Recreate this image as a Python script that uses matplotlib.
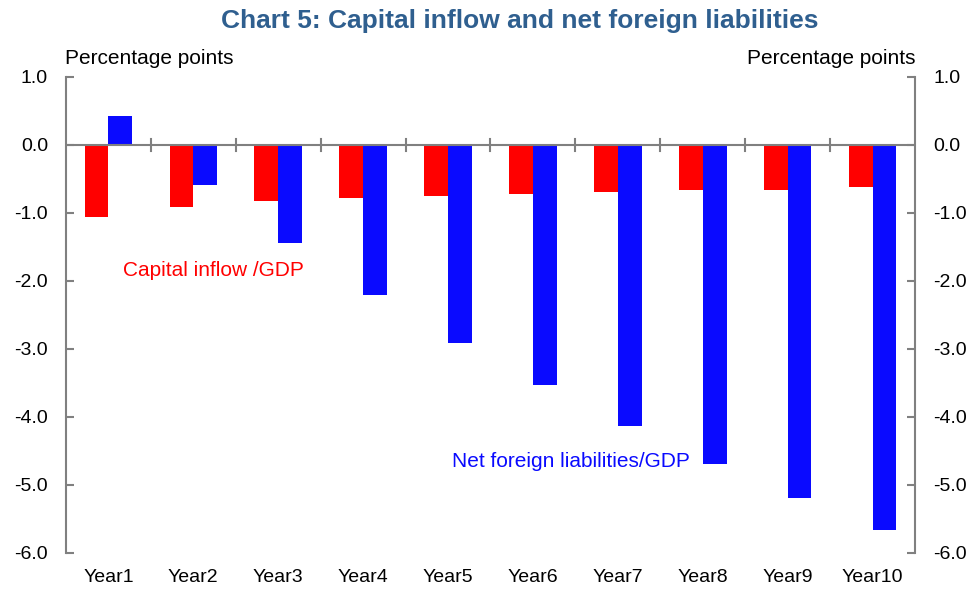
import numpy as np
import matplotlib
matplotlib.use("Agg")
import matplotlib.pyplot as plt

plt.rcParams['font.family'] = ['Liberation Sans', 'DejaVu Sans']

years = ['Year1', 'Year2', 'Year3', 'Year4', 'Year5',
         'Year6', 'Year7', 'Year8', 'Year9', 'Year10']
capital_inflow = [-1.07, -0.92, -0.83, -0.78, -0.75, -0.72, -0.69, -0.66, -0.66, -0.63]
net_foreign = [0.42, -0.60, -1.44, -2.21, -2.91, -3.53, -4.13, -4.69, -5.19, -5.67]
yticks = [1.0, 0.0, -1.0, -2.0, -3.0, -4.0, -5.0, -6.0]

GREY = '#808080'

fig = plt.figure(figsize=(9.76, 5.94), dpi=100)
ax = fig.add_axes([0.0676, 0.0695, 0.8699, 0.8015])

x = np.arange(len(years))
w = 0.28
ax.bar(x - w / 2, capital_inflow, w, color='#FF0000', zorder=2)
ax.bar(x + w / 2, net_foreign, w, color='#0A0AFF', zorder=2)

ax.set_xlim(-0.5, len(years) - 0.5)
ax.set_ylim(-6.0, 1.0)

# zero line with crossing ticks between groups
ax.axhline(0, color=GREY, lw=1.5, zorder=3)
for b in np.arange(0.5, len(years) - 0.5, 1.0):
    ax.plot([b, b], [-0.09, 0.09], color=GREY, lw=1.5, zorder=3)

for s in ['top', 'bottom']:
    ax.spines[s].set_visible(False)
for s in ['left', 'right']:
    ax.spines[s].set_color(GREY)
    ax.spines[s].set_linewidth(1.5)

ax.set_yticks(yticks)
ax.set_yticklabels(['%.1f' % v for v in yticks])
ax.tick_params(axis='y', direction='in', length=6, width=1.5, color=GREY,
               labelsize=14, left=True, right=True, labelleft=True,
               labelright=True, pad=13)
ax.set_xticks(x)
ax.set_xticklabels(years)
ax.tick_params(axis='x', length=0, labelsize=14, pad=12)

fig.text(0.533, 0.964, 'Chart 5: Capital inflow and net foreign liabilities',
         ha='center', va='center', fontsize=19, fontweight='bold', color='#2F5F8F')
fig.text(0.067, 0.902, 'Percentage points', ha='left', va='center', fontsize=15)
fig.text(0.938, 0.902, 'Percentage points', ha='right', va='center', fontsize=15)

ax.text(1.24, -1.85, 'Capital inflow /GDP', color='#FF0000', fontsize=15,
        ha='center', va='center')
ax.text(5.45, -4.66, 'Net foreign liabilities/GDP', color='#0A0AFF', fontsize=15,
        ha='center', va='center')

fig.savefig('out.png', dpi=100)
